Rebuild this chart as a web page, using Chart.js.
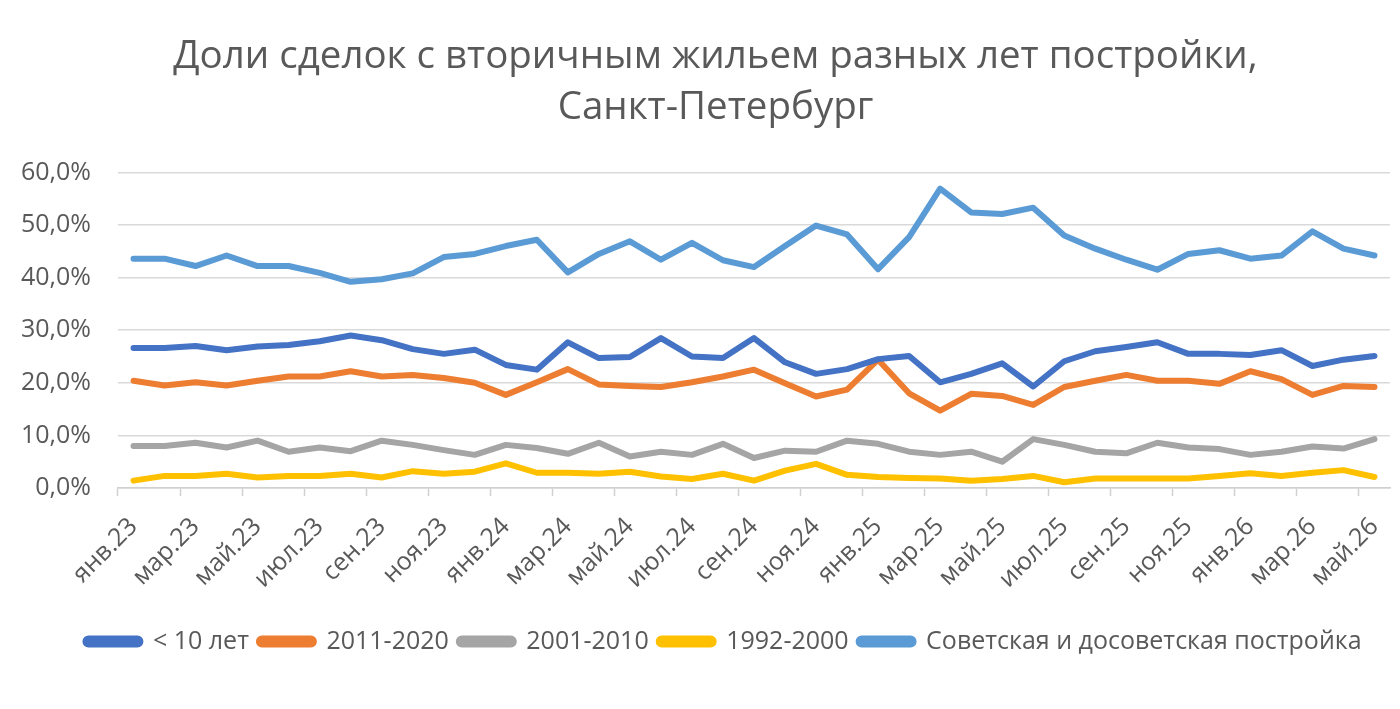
<!DOCTYPE html>
<html>
<head>
<meta charset="utf-8">
<script src="https://cdn.jsdelivr.net/npm/chart.js@4.4.1/dist/chart.umd.min.js"></script>
<style>
html,body{margin:0;padding:0;background:#fff;}
#wrap{width:1400px;height:709px;}
</style>
</head>
<body>
<div id="wrap"><canvas id="c" width="1400" height="709"></canvas></div>
<script>
const months = ['янв','фев','мар','апр','май','июн','июл','авг','сен','окт','ноя','дек'];
const categories = [];
for (let y = 23; y <= 26; y++) for (let m = 0; m < 12; m++) { if (categories.length < 41) categories.push(months[m] + '.' + y); }

const under10 = [26.6,26.6,27.0,26.2,26.9,27.2,27.9,29.0,28.1,26.4,25.5,26.3,23.4,22.5,27.7,24.7,24.9,28.5,25.0,24.7,28.5,23.9,21.7,22.6,24.5,25.1,20.1,21.7,23.7,19.3,24.1,26.0,26.8,27.7,25.5,25.5,25.3,26.2,23.2,24.4,25.1];
const y2011_2020 = [20.4,19.5,20.1,19.5,20.4,21.2,21.2,22.2,21.2,21.5,20.9,20.0,17.7,20.1,22.6,19.7,19.4,19.2,20.1,21.2,22.5,19.9,17.4,18.7,24.4,18.0,14.7,17.9,17.5,15.8,19.2,20.4,21.5,20.4,20.4,19.8,22.2,20.7,17.7,19.4,19.2];
const y2001_2010 = [8.0,8.0,8.6,7.7,9.0,6.9,7.7,7.0,9.0,8.2,7.2,6.3,8.2,7.6,6.5,8.6,6.0,6.9,6.3,8.4,5.7,7.1,6.9,9.0,8.4,6.9,6.3,6.9,5.0,9.3,8.2,6.9,6.6,8.6,7.7,7.4,6.3,6.9,7.9,7.5,9.3];
const y1992_2000 = [1.4,2.3,2.3,2.7,2.0,2.3,2.3,2.7,2.0,3.2,2.7,3.1,4.7,2.9,2.9,2.7,3.1,2.2,1.7,2.7,1.4,3.3,4.6,2.5,2.1,1.9,1.8,1.4,1.7,2.3,1.1,1.8,1.8,1.8,1.8,2.3,2.8,2.3,2.9,3.4,2.1];
const soviet = [43.6,43.6,42.2,44.2,42.2,42.2,40.9,39.2,39.7,40.8,43.9,44.5,46.0,47.2,41.0,44.5,46.9,43.4,46.6,43.3,42.0,46.0,49.9,48.2,41.6,47.7,56.9,52.4,52.1,53.3,48.0,45.5,43.4,41.5,44.5,45.2,43.6,44.2,48.8,45.5,44.2];

const seriesNames = ['< 10 лет','2011-2020','2001-2010','1992-2000','Советская и досоветская постройка'];
const seriesData = [under10, y2011_2020, y2001_2010, y1992_2000, soviet];
const seriesColors = ['#4472C4','#ED7D31','#A5A5A5','#FFC000','#5B9BD5'];

const titleLines = ['Доли сделок с вторичным жильем разных лет постройки,','Санкт-Петербург'];
const FONT = '"Open Sans", sans-serif';
const TXT = '#595959';

const shiftBlocks = {
  id: 'shiftBlocks',
  afterLayout(chart) {
    if (chart.titleBlock) { chart.titleBlock.left += 10; chart.titleBlock.right += 10; }
    if (chart.legend) { chart.legend.left += 18; chart.legend.right += 18; }
  }
};

new Chart(document.getElementById('c'), {
  type: 'line',
  plugins: [shiftBlocks],
  data: {
    labels: categories,
    datasets: seriesNames.map((n, i) => ({
      label: n,
      data: seriesData[i],
      borderColor: seriesColors[i],
      backgroundColor: seriesColors[i],
      borderWidth: 6,
      pointRadius: 0,
      tension: 0,
      borderCapStyle: 'round',
      borderJoinStyle: 'round'
    }))
  },
  options: {
    responsive: false,
    animation: false,
    layout: { padding: { left: 21, right: 10, top: 20, bottom: 45 } },
    plugins: {
      tooltip: { enabled: false },
      title: {
        display: true,
        text: titleLines,
        color: TXT,
        font: { family: FONT, size: 38.5, weight: 'normal', lineHeight: 1.33 },
        padding: { top: 11, bottom: 39 }
      },
      legend: {
        position: 'bottom',
        labels: {
          color: TXT,
          font: { family: FONT, size: 25 },
          boxWidth: 55,
          boxHeight: 6,
          useBorderRadius: true,
          borderRadius: 3,
          padding: 10
        }
      }
    },
    scales: {
      x: {
        offset: true,
        afterFit: (scale) => { scale.height = 131; scale.paddingLeft = 0; scale.paddingRight = 0; },
        grid: {
          offset: true,
          drawOnChartArea: false,
          drawTicks: true,
          tickLength: 8,
          tickWidth: 1.5,
          tickColor: (ctx) => (ctx.index % 2 === 0 ? '#D0D0D0' : 'rgba(0,0,0,0)')
        },
        border: { display: true, color: '#D0D0D0', width: 1.5 },
        ticks: {
          autoSkip: false,
          minRotation: 45,
          maxRotation: 45,
          color: TXT,
          font: { family: FONT, size: 25 },
          padding: 16,
          callback: function(v, i) { return i % 2 === 0 ? categories[i] : ''; }
        }
      },
      y: {
        min: 0,
        max: 60,
        afterFit: (scale) => { scale.width = 97; },
        grid: { color: '#D9D9D9', lineWidth: 1.5, drawTicks: false },
        border: { display: false },
        ticks: {
          stepSize: 10,
          color: TXT,
          font: { family: FONT, size: 25 },
          padding: 27,
          callback: (v) => v.toFixed(1).replace('.', ',') + '%'
        }
      }
    }
  }
});
</script>
</body>
</html>
